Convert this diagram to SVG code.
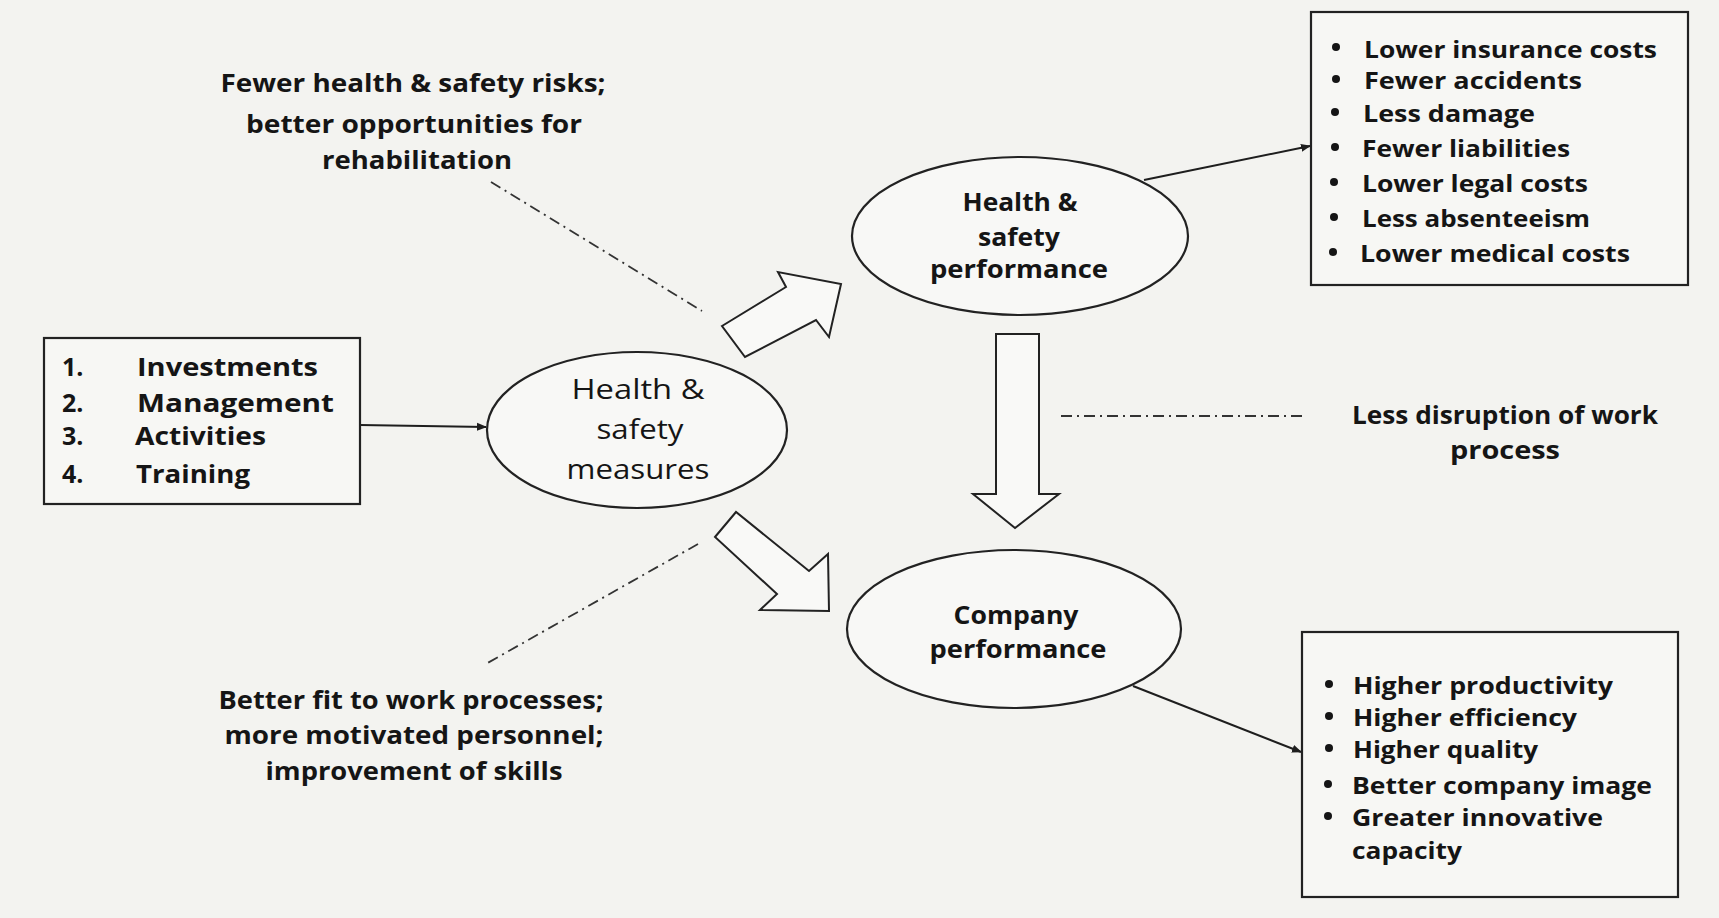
<svg xmlns="http://www.w3.org/2000/svg" width="1719" height="918" viewBox="0 0 1719 918">
<defs>
<marker id="ah" viewBox="0 0 10 10" refX="9" refY="5" markerWidth="10" markerHeight="10" markerUnits="userSpaceOnUse" orient="auto">
<path d="M0,1 L10,5 L0,9 z" fill="#1e1e1e"/>
</marker>
<style>
.bg{fill:#f3f3f0}
.box{fill:#f7f7f4;stroke:#222;stroke-width:2.2}
.ell{fill:#f8f8f6;stroke:#222;stroke-width:2.2}
.blk{fill:#f9f9f7;stroke:#222;stroke-width:2;stroke-linejoin:miter}
.con{stroke:#1e1e1e;stroke-width:2;fill:none}
.dd{stroke:#333;stroke-width:1.8;fill:none;stroke-dasharray:11 5 2 5}
.t{font-family:"Open Sans","Liberation Sans",sans-serif;font-weight:700;fill:#151515}
.tr{font-family:"Open Sans","Liberation Sans",sans-serif;font-weight:400;fill:#151515}
.c{text-anchor:middle}
.bul{fill:#151515}
</style>
</defs>
<rect class="bg" x="0" y="0" width="1719" height="918"/>

<g id="connectors">
<line class="con" x1="360" y1="425" x2="486" y2="427" marker-end="url(#ah)"/>
<line class="con" x1="1144" y1="180" x2="1310" y2="146" marker-end="url(#ah)"/>
<line class="con" x1="1133" y1="686" x2="1301" y2="752" marker-end="url(#ah)"/>
<line class="dd" x1="491" y1="182" x2="702" y2="311"/>
<line class="dd" x1="698" y1="544" x2="484" y2="665"/>
<line class="dd" x1="1061" y1="416" x2="1307" y2="416"/>
<polygon id="arrow-up" class="blk" points="722,326 786,287 778,272 841,284 829,337 816,320 745,357"/>
<polygon id="arrow-down" class="blk" points="996,334 1039,334 1039,494 1059,494 1015,528 973,494 996,494"/>
<polygon id="arrow-low" class="blk" points="715,537 736,512 809,571 828,554 829,611 760,610 777,594"/>
</g>

<g id="inputs-box">
<rect class="box" x="44" y="338" width="316" height="166"/>
<text class="t" font-size="25" x="62" y="376">1.</text>
<text class="t" font-size="25" x="137" y="376" textLength="181" lengthAdjust="spacingAndGlyphs">Investments</text>
<text class="t" font-size="25" x="62" y="412">2.</text>
<text class="t" font-size="25" x="137" y="412" textLength="197" lengthAdjust="spacingAndGlyphs">Management</text>
<text class="t" font-size="25" x="62" y="445">3.</text>
<text class="t" font-size="25" x="135" y="445" textLength="131" lengthAdjust="spacingAndGlyphs">Activities</text>
<text class="t" font-size="25" x="62" y="483">4.</text>
<text class="t" font-size="25" x="136" y="483" textLength="114" lengthAdjust="spacingAndGlyphs">Training</text>
</g>

<g id="measures">
<ellipse class="ell" cx="637" cy="430" rx="150" ry="78"/>
<text class="tr c" font-size="27" x="638" y="399" textLength="133" lengthAdjust="spacingAndGlyphs">Health &amp;</text>
<text class="tr c" font-size="27" x="640" y="439" textLength="87" lengthAdjust="spacingAndGlyphs">safety</text>
<text class="tr c" font-size="27" x="638" y="479" textLength="143" lengthAdjust="spacingAndGlyphs">measures</text>
</g>

<g id="hs-performance">
<ellipse class="ell" cx="1020" cy="236" rx="168" ry="79"/>
<text class="t c" font-size="25" x="1020" y="211" textLength="115" lengthAdjust="spacingAndGlyphs">Health &amp;</text>
<text class="t c" font-size="25" x="1019" y="246" textLength="82" lengthAdjust="spacingAndGlyphs">safety</text>
<text class="t c" font-size="25" x="1019" y="278" textLength="178" lengthAdjust="spacingAndGlyphs">performance</text>
</g>

<g id="company-performance">
<ellipse class="ell" cx="1014" cy="629" rx="167" ry="79"/>
<text class="t c" font-size="25" x="1016" y="624" textLength="125" lengthAdjust="spacingAndGlyphs">Company</text>
<text class="t c" font-size="25" x="1018" y="658" textLength="177" lengthAdjust="spacingAndGlyphs">performance</text>
</g>

<g id="hs-benefits">
<rect class="box" x="1311" y="12" width="377" height="273"/>
<circle class="bul" cx="1336" cy="47" r="4"/>
<text class="t" font-size="24" x="1364" y="58" textLength="293" lengthAdjust="spacingAndGlyphs">Lower insurance costs</text>
<circle class="bul" cx="1336" cy="79" r="4"/>
<text class="t" font-size="24" x="1364" y="89" textLength="218" lengthAdjust="spacingAndGlyphs">Fewer accidents</text>
<circle class="bul" cx="1335" cy="112" r="4"/>
<text class="t" font-size="24" x="1363" y="122" textLength="172" lengthAdjust="spacingAndGlyphs">Less damage</text>
<circle class="bul" cx="1335" cy="147" r="4"/>
<text class="t" font-size="24" x="1362" y="157" textLength="208" lengthAdjust="spacingAndGlyphs">Fewer liabilities</text>
<circle class="bul" cx="1334" cy="182" r="4"/>
<text class="t" font-size="24" x="1362" y="192" textLength="226" lengthAdjust="spacingAndGlyphs">Lower legal costs</text>
<circle class="bul" cx="1334" cy="217" r="4"/>
<text class="t" font-size="24" x="1362" y="227" textLength="228" lengthAdjust="spacingAndGlyphs">Less absenteeism</text>
<circle class="bul" cx="1333" cy="252" r="4"/>
<text class="t" font-size="24" x="1360" y="262" textLength="270" lengthAdjust="spacingAndGlyphs">Lower medical costs</text>
</g>

<g id="company-benefits">
<rect class="box" x="1302" y="632" width="376" height="265"/>
<circle class="bul" cx="1329" cy="684" r="4"/>
<text class="t" font-size="24" x="1353" y="694" textLength="260" lengthAdjust="spacingAndGlyphs">Higher productivity</text>
<circle class="bul" cx="1329" cy="716" r="4"/>
<text class="t" font-size="24" x="1353" y="726" textLength="224" lengthAdjust="spacingAndGlyphs">Higher efficiency</text>
<circle class="bul" cx="1329" cy="748" r="4"/>
<text class="t" font-size="24" x="1353" y="758" textLength="185" lengthAdjust="spacingAndGlyphs">Higher quality</text>
<circle class="bul" cx="1328" cy="784" r="4"/>
<text class="t" font-size="24" x="1352" y="794" textLength="300" lengthAdjust="spacingAndGlyphs">Better company image</text>
<circle class="bul" cx="1328" cy="816" r="4"/>
<text class="t" font-size="24" x="1352" y="826" textLength="251" lengthAdjust="spacingAndGlyphs">Greater innovative</text>
<text class="t" font-size="24" x="1352" y="859" textLength="110" lengthAdjust="spacingAndGlyphs">capacity</text>
</g>

<g id="label-risks">
<text class="t c" font-size="25" x="413" y="92" textLength="385" lengthAdjust="spacingAndGlyphs">Fewer health &amp; safety risks;</text>
<text class="t c" font-size="25" x="414" y="133" textLength="336" lengthAdjust="spacingAndGlyphs">better opportunities for</text>
<text class="t c" font-size="25" x="417" y="169" textLength="190" lengthAdjust="spacingAndGlyphs">rehabilitation</text>
</g>

<g id="label-fit">
<text class="t c" font-size="25" x="411" y="709" textLength="385" lengthAdjust="spacingAndGlyphs">Better fit to work processes;</text>
<text class="t c" font-size="25" x="414" y="744" textLength="379" lengthAdjust="spacingAndGlyphs">more motivated personnel;</text>
<text class="t c" font-size="25" x="414" y="780" textLength="297" lengthAdjust="spacingAndGlyphs">improvement of skills</text>
</g>

<g id="label-disruption">
<text class="t c" font-size="25" x="1505" y="424" textLength="306" lengthAdjust="spacingAndGlyphs">Less disruption of work</text>
<text class="t c" font-size="25" x="1505" y="459" textLength="110" lengthAdjust="spacingAndGlyphs">process</text>
</g>
</svg>
